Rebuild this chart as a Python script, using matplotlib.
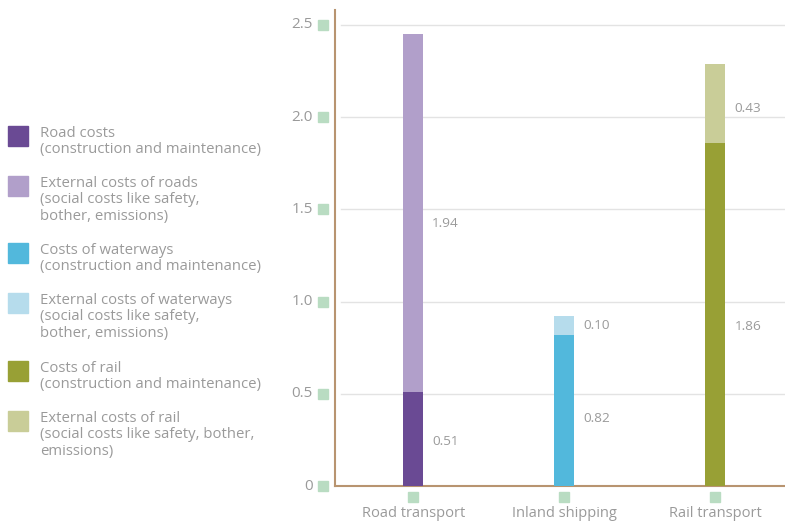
import numpy as np
import matplotlib.pyplot as plt
from matplotlib.patches import Rectangle

modes = ['Road transport', 'Inland shipping', 'Rail transport']
infra_costs = [0.51, 0.82, 1.86]
external_costs = [1.94, 0.10, 0.43]

infra_colors = ['#6a4a94', '#52b8dc', '#98a035']
external_colors = ['#b19fca', '#b6dcec', '#c9cd98']

legend_labels = [
    'Road costs\n(construction and maintenance)',
    'External costs of roads\n(social costs like safety,\nbother, emissions)',
    'Costs of waterways\n(construction and maintenance)',
    'External costs of waterways\n(social costs like safety,\nbother, emissions)',
    'Costs of rail\n(construction and maintenance)',
    'External costs of rail\n(social costs like safety, bother,\nemissions)',
]
legend_colors = ['#6a4a94', '#b19fca', '#52b8dc', '#b6dcec', '#98a035', '#c9cd98']

yticks = [0, 0.5, 1.0, 1.5, 2.0, 2.5]
ytick_labels = ['0', '0.5', '1.0', '1.5', '2.0', '2.5']

text_gray = '#9a9a9a'
spine_brown = '#b89470'
tick_green = '#b9dcc2'

plt.rcParams['font.family'] = ['Open Sans', 'DejaVu Sans']

W, H = 785, 521
fig = plt.figure(figsize=(W / 100, H / 100), dpi=100)
ax = fig.add_axes([335 / W, (H - 486) / H, (785 - 335) / W, (486 - 10) / H])

x = np.arange(len(modes))
bw = 0.132
ax.bar(x, infra_costs, width=bw, color=infra_colors, zorder=3)
ax.bar(x, external_costs, width=bw, bottom=infra_costs, color=external_colors, zorder=3)

# value labels beside each segment (vertical nudge in points)
nudge = [(-1.5, -7.5), (-6, 0), (-9, -3.5)]
for xi, a, b, (d1, d2) in zip(x, infra_costs, external_costs, nudge):
    for bottom, val, dy in ((0, a, d1), (a, b, d2)):
        ax.annotate(f'{val:.2f}', (xi + bw / 2, bottom + val / 2),
                    xytext=(6.5, dy), textcoords='offset points',
                    ha='left', va='center', fontsize=9.7, color=text_gray, zorder=4)

ax.set_xlim(-0.517, 2.46)
ax.set_ylim(0, 2.58)

for y in yticks[1:]:
    ax.plot([-0.475, 2.46], [y, y], color='#e3e3e3', lw=1, zorder=1, clip_on=False)

for s in ['top', 'right']:
    ax.spines[s].set_visible(False)
for s in ['left', 'bottom']:
    ax.spines[s].set_color(spine_brown)
    ax.spines[s].set_linewidth(1.5)

ax.set_xticks([])
ax.set_yticks([])

# y tick labels with small green square markers
for y, lab in zip(yticks, ytick_labels):
    ax.plot(-0.027, y, marker='s', ms=6.5, color=tick_green, transform=ax.get_yaxis_transform(),
            clip_on=False)
    ax.text(-0.049, y, lab, transform=ax.get_yaxis_transform(), ha='right', va='center',
            fontsize=11, color=text_gray)

# category labels with green square markers
for xi, lab in zip(x, modes):
    ax.plot(xi, -0.024, marker='s', ms=6.5, color=tick_green, transform=ax.get_xaxis_transform(),
            clip_on=False)
    ax.text(xi, -0.058, lab, transform=ax.get_xaxis_transform(), ha='center', va='center',
            fontsize=10.5, color=text_gray)

# legend on the left side
leg_tops = [126, 176, 243, 293, 361, 411]
for top, lab, col in zip(leg_tops, legend_labels, legend_colors):
    fig.patches.append(Rectangle((8 / W, (H - top - 20) / H), 20 / W, 20 / H,
                                 transform=fig.transFigure, color=col))
    fig.text(40 / W, (H - top + 0) / H, lab, ha='left', va='top', fontsize=10.7,
             color=text_gray, linespacing=1.12)

fig.savefig('out.png', dpi=100)
